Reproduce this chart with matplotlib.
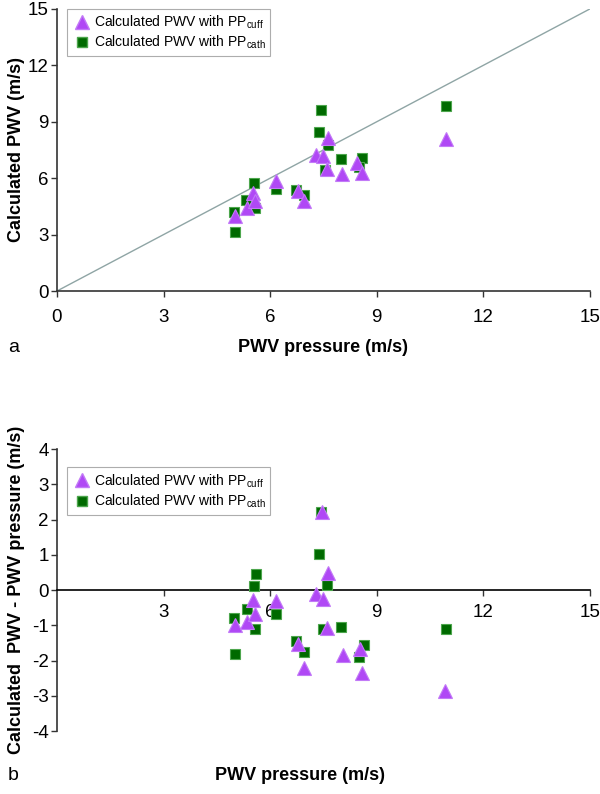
import matplotlib
matplotlib.use("Agg")
import matplotlib.pyplot as plt
from matplotlib.lines import Line2D

plt.rcParams['font.family'] = ['Liberation Sans', 'DejaVu Sans']

# ---- Panel a: calculated PWV vs PWV pressure ----
a_cuff_x = [5.01, 5.35, 5.53, 5.58, 6.17, 6.78, 6.96, 7.30, 7.48, 7.64, 7.60, 8.03, 8.45, 8.58, 10.95]
a_cuff_y = [3.97, 4.42, 5.23, 4.80, 5.83, 5.30, 4.80, 7.25, 7.20, 8.12, 6.50, 6.20, 6.80, 6.30, 8.10]
a_cath_x = [4.99, 5.01, 5.33, 5.55, 5.58, 6.17, 6.73, 6.96, 7.37, 7.44, 7.55, 7.63, 8.00, 8.60, 8.50, 10.96]
a_cath_y = [4.20, 3.12, 4.82, 5.72, 4.40, 5.45, 5.35, 5.12, 8.45, 9.64, 6.45, 7.75, 7.00, 7.08, 6.62, 9.84]

# ---- Panel b: difference vs PWV pressure ----
b_cuff_x = [5.01, 5.35, 5.53, 5.58, 6.17, 6.79, 6.96, 7.30, 7.49, 7.46, 7.63, 7.60, 8.05, 8.53, 8.60, 10.93]
b_cuff_y = [-1.00, -0.91, -0.28, -0.68, -0.31, -1.53, -2.20, -0.12, -0.26, 2.20, 0.48, -1.07, -1.84, -1.68, -2.36, -2.87]
b_cath_x = [4.99, 5.01, 5.35, 5.55, 5.60, 5.58, 6.17, 6.73, 6.96, 7.37, 7.44, 7.49, 7.60, 8.00, 8.65, 8.50, 10.96]
b_cath_y = [-0.79, -1.82, -0.53, 0.11, 0.45, -1.10, -0.67, -1.45, -1.76, 1.02, 2.21, -1.10, 0.14, -1.05, -1.56, -1.90, -1.10]

ticks_x = [0, 3, 6, 9, 12, 15]
ticks_ya = [0, 3, 6, 9, 12, 15]
ticks_yb = [-4, -3, -2, -1, 0, 1, 2, 3, 4]
label_cuff = 'Calculated PWV with PP$_{\\mathregular{cuff}}$'
label_cath = 'Calculated PWV with PP$_{\\mathregular{cath}}$'

PURPLE = '#B048F5'
PURPLE_E = '#C27AF7'
GREEN = '#006A00'
GREEN_E = '#4DA64D'
AXC = '#333333'

fig = plt.figure(figsize=(6.0, 7.94), dpi=100)

def style(ax):
    for s in ['top', 'right']:
        ax.spines[s].set_visible(False)
    for s in ['left', 'bottom']:
        ax.spines[s].set_color(AXC)
        ax.spines[s].set_linewidth(1.2)
    ax.tick_params(colors='black', labelsize=13.5, length=4, width=1.0)
    ax.tick_params(axis='both', color=AXC)
    ax.tick_params(axis='y', pad=2)

def draw(ax, cx, cy, qx, qy):
    ax.plot(qx, qy, 's', ms=7.5, color=GREEN, mec=GREEN_E, mew=0.8, linestyle='none', zorder=3)
    ax.plot(cx, cy, '^', ms=10, color=PURPLE, mec=PURPLE_E, mew=0.8, linestyle='none', zorder=4)

def legend(ax, y_top):
    h = [Line2D([], [], marker='^', ms=10, color=PURPLE, mec=PURPLE_E, linestyle='none'),
         Line2D([], [], marker='s', ms=7.5, color=GREEN, mec=GREEN_E, linestyle='none')]
    leg = ax.legend(h, [label_cuff, label_cath], loc='upper left',
                    bbox_to_anchor=(0.018, y_top), fontsize=10, frameon=True,
                    fancybox=False, handletextpad=0.1, handlelength=1.5,
                    borderpad=0.35, labelspacing=0.2, borderaxespad=0)
    leg.get_frame().set_edgecolor('#999999')
    leg.get_frame().set_linewidth(0.8)

# Panel a
ax1 = fig.add_axes([0.095, 0.6335, 0.888, 0.3552])
style(ax1)
ax1.plot([0, 15], [0, 15], color='#8FA5A5', lw=1.0, zorder=2)
draw(ax1, a_cuff_x, a_cuff_y, a_cath_x, a_cath_y)
ax1.set_xlim(0, 15)
ax1.set_ylim(0, 15)
ax1.set_xticks(ticks_x)
ax1.set_yticks(ticks_ya)
ax1.tick_params(axis='x', pad=9)
ax1.set_xlabel('PWV pressure (m/s)', fontsize=13, fontweight='bold', labelpad=9)
ax1.set_ylabel('Calculated PWV (m/s)', fontsize=13, fontweight='bold')
ax1.yaxis.set_label_coords(-0.06, 0.5)
legend(ax1, 1.0)
fig.text(0.013, 0.562, 'a', fontsize=14, ha='left', va='center')

# Panel b
ax2 = fig.add_axes([0.095, 0.0793, 0.888, 0.3552])
style(ax2)
ax2.spines['bottom'].set_position(('data', 0))
ax2.spines['bottom'].set_color('black')
draw(ax2, b_cuff_x, b_cuff_y, b_cath_x, b_cath_y)
ax2.set_xlim(0, 15)
ax2.set_ylim(-4, 4)
ax2.set_xticks(ticks_x[1:])
ax2.set_yticks(ticks_yb)
ax2.set_yticklabels([str(v) for v in ticks_yb])
ax2.tick_params(axis='x', pad=6)
ax2.set_ylabel('Calculated  PWV - PWV pressure (m/s)', fontsize=13, fontweight='bold')
ax2.yaxis.set_label_coords(-0.06, 0.5)
legend(ax2, 0.935)
fig.text(0.5, 0.023, 'PWV pressure (m/s)', fontsize=13, fontweight='bold', ha='center', va='center')
fig.text(0.013, 0.023, 'b', fontsize=14, ha='left', va='center')

fig.savefig('out.png', dpi=100)
